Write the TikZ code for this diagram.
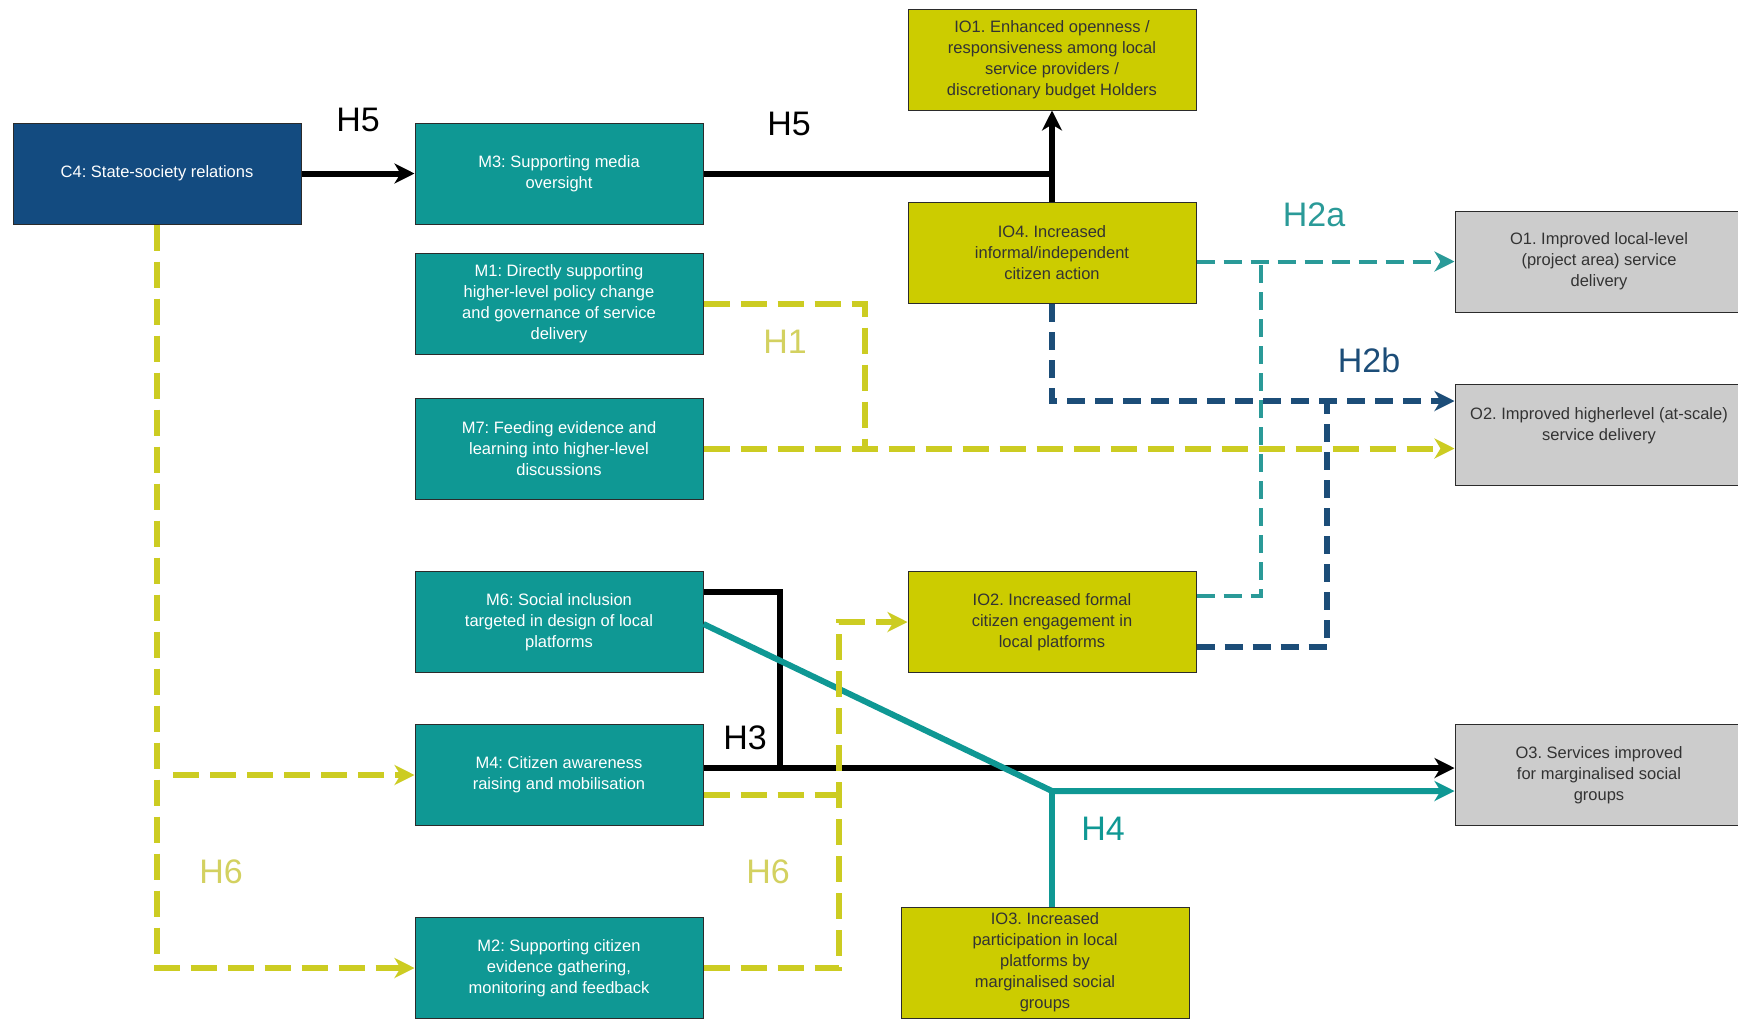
\documentclass[tikz,border=0pt]{standalone}
\usepackage{fontspec}
\setmainfont{Liberation Sans}
\usetikzlibrary{arrows.meta,calc}
\frenchspacing

\definecolor{cfour}{HTML}{134B80}
\definecolor{mteal}{HTML}{0F9894}
\definecolor{ioyel}{HTML}{CCCC00}
\definecolor{ogray}{HTML}{CCCCCC}
\definecolor{yline}{HTML}{CCCC22}
\definecolor{ylabel}{HTML}{D3D160}
\definecolor{tline}{HTML}{2A9A98}
\definecolor{bline}{HTML}{1C4D78}
\definecolor{boxedge}{HTML}{2B2B2B}
\definecolor{boxtext}{HTML}{333333}

\tikzset{
  box/.style={rectangle, draw=boxedge, line width=1pt, minimum width=288pt,
    minimum height=101pt, align=center, inner sep=2pt,
    font=\fontsize{16.5}{21}\selectfont},
  cbox/.style={box, fill=cfour, text=white},
  mbox/.style={box, fill=mteal, text=white},
  iobox/.style={box, fill=ioyel, text=boxtext},
  obox/.style={box, fill=ogray, text=boxtext},
  hlabel/.style={font=\fontsize{34}{34}\selectfont, inner sep=0pt},
  tip/.style={-{Stealth[length=20pt,width=20pt,inset=6pt]}},
  blackline/.style={line width=6pt, black},
  yellowdash/.style={line width=6pt, yline, dash pattern=on 26pt off 11pt},
  tealdash/.style={line width=4pt, tline, dash pattern=on 18pt off 9pt},
  bluedash/.style={line width=6pt, bline, dash pattern=on 18pt off 10pt},
  tealsolid/.style={line width=6pt, mteal},
}

\begin{document}
\begin{tikzpicture}[x=1pt, y=-1pt]
  \fill[white] (0,0) rectangle (1738,1018);
  \clip (0,0) rectangle (1738,1018);

  % context
  \node[cbox] (C4) at (157,173.5) {C4: State-society relations};

  % mechanisms
  \node[mbox] (M3) at (559,173.5) {M3: Supporting media\\oversight};
  \node[mbox] (M1) at (559,304) {M1: Directly supporting\\higher-level policy change\\and governance of service\\delivery};
  \node[mbox] (M7) at (559,448.5) {M7: Feeding evidence and\\learning into higher-level\\discussions};
  \node[mbox] (M6) at (559,622) {M6: Social inclusion\\targeted in design of local\\platforms};
  \node[mbox] (M4) at (559,775) {M4: Citizen awareness\\raising and mobilisation};
  \node[mbox] (M2) at (559,968) {M2: Supporting citizen\\evidence gathering,\\monitoring and feedback};

  % intermediate outcomes
  \node[iobox] (IO1) at (1052,59.5) {IO1. Enhanced openness /\\responsiveness among local\\service providers /\\discretionary budget Holders};
  \node[iobox] (IO4) at (1052,253) {IO4. Increased\\informal/independent\\citizen action};
  \node[iobox] (IO2) at (1052,622) {IO2. Increased formal\\citizen engagement in\\local platforms};
  \node[iobox, minimum height=111pt] (IO3) at (1045,962.5) {IO3. Increased\\participation in local\\platforms by\\marginalised social\\groups};

  % outcomes
  \node[obox] (O1) at (1599,261.5) {O1. Improved local-level\\(project area) service\\delivery};
  \node[obox] (O2) at (1599,435) {O2. Improved higherlevel (at-scale)\\service delivery\\~};
  \node[obox] (O3) at (1599,775) {O3. Services improved\\for marginalised social\\groups};

  % H5: media oversight
  \draw[blackline, tip] (C4.east) -- (M3.west);
  \draw[blackline, tip] (M3.east) -| (IO1.south);
  \draw[blackline] (IO4.north) -- (IO4.north |- M3.east);

  % H2a: towards local-level delivery
  \coordinate (j2a) at (1261,261.5);
  \draw[tealdash, tip] (IO4.east |- O1.west) -- (O1.west);
  \draw[tealdash] ($(IO2.east)+(0,-26)$) -| (j2a);

  % H2b: towards higher-level delivery
  \coordinate (o2b) at ($(O2.west)+(0,-34)$);
  \draw[bluedash, tip] (IO4.south) |- (o2b);
  \draw[bluedash] ($(IO2.east)+(0,25)$) -| (1327,401);

  % H1: policy and evidence
  \draw[yellowdash, tip] (M7.east) -- (M7.east -| O2.west);
  \draw[yellowdash] (M1.east) -| (865,448.5);

  % H3: inclusion and mobilisation
  \draw[blackline, tip] ($(M4.east)+(0,-7)$) -- ($(O3.west)+(0,-7)$);
  \draw[blackline] ($(M6.east)+(0,-30)$) -| (780,768);

  % H4: participation of marginalised groups
  \coordinate (j4) at (1052,791);
  \draw[tealsolid, tip, line join=miter] ($(M6.east)+(0,2)$) -- (j4) -- (j4 -| O3.west);
  \draw[tealsolid] (IO3.north -| j4) -- (j4);

  % H6: from context to citizen mechanisms
  \draw[yellowdash, tip] (C4.south) |- (M2.west);
  \draw[yellowdash, tip] (173,775) -- (M4.west);
  \draw[yellowdash, tip] (M2.east) -| (839,622) -- (IO2.west);
  \draw[yellowdash] ($(M4.east)+(0,20)$) -- (839,795);

  % hypothesis labels
  \node[hlabel, text=black] (h5a) at (358,120) {H5};
  \node[hlabel, text=black] (h5b) at (789,124) {H5};
  \node[hlabel, text=tline] (h2a) at (1314,215) {H2a};
  \node[hlabel, text=bline] (h2b) at (1369,360) {H2b};
  \node[hlabel, text=ylabel] (h1) at (785,342) {H1};
  \node[hlabel, text=black] (h3) at (745,738) {H3};
  \node[hlabel, text=mteal] (h4) at (1103,829) {H4};
  \node[hlabel, text=ylabel] (h6a) at (221,872) {H6};
  \node[hlabel, text=ylabel] (h6b) at (768,872) {H6};
\end{tikzpicture}
\end{document}
